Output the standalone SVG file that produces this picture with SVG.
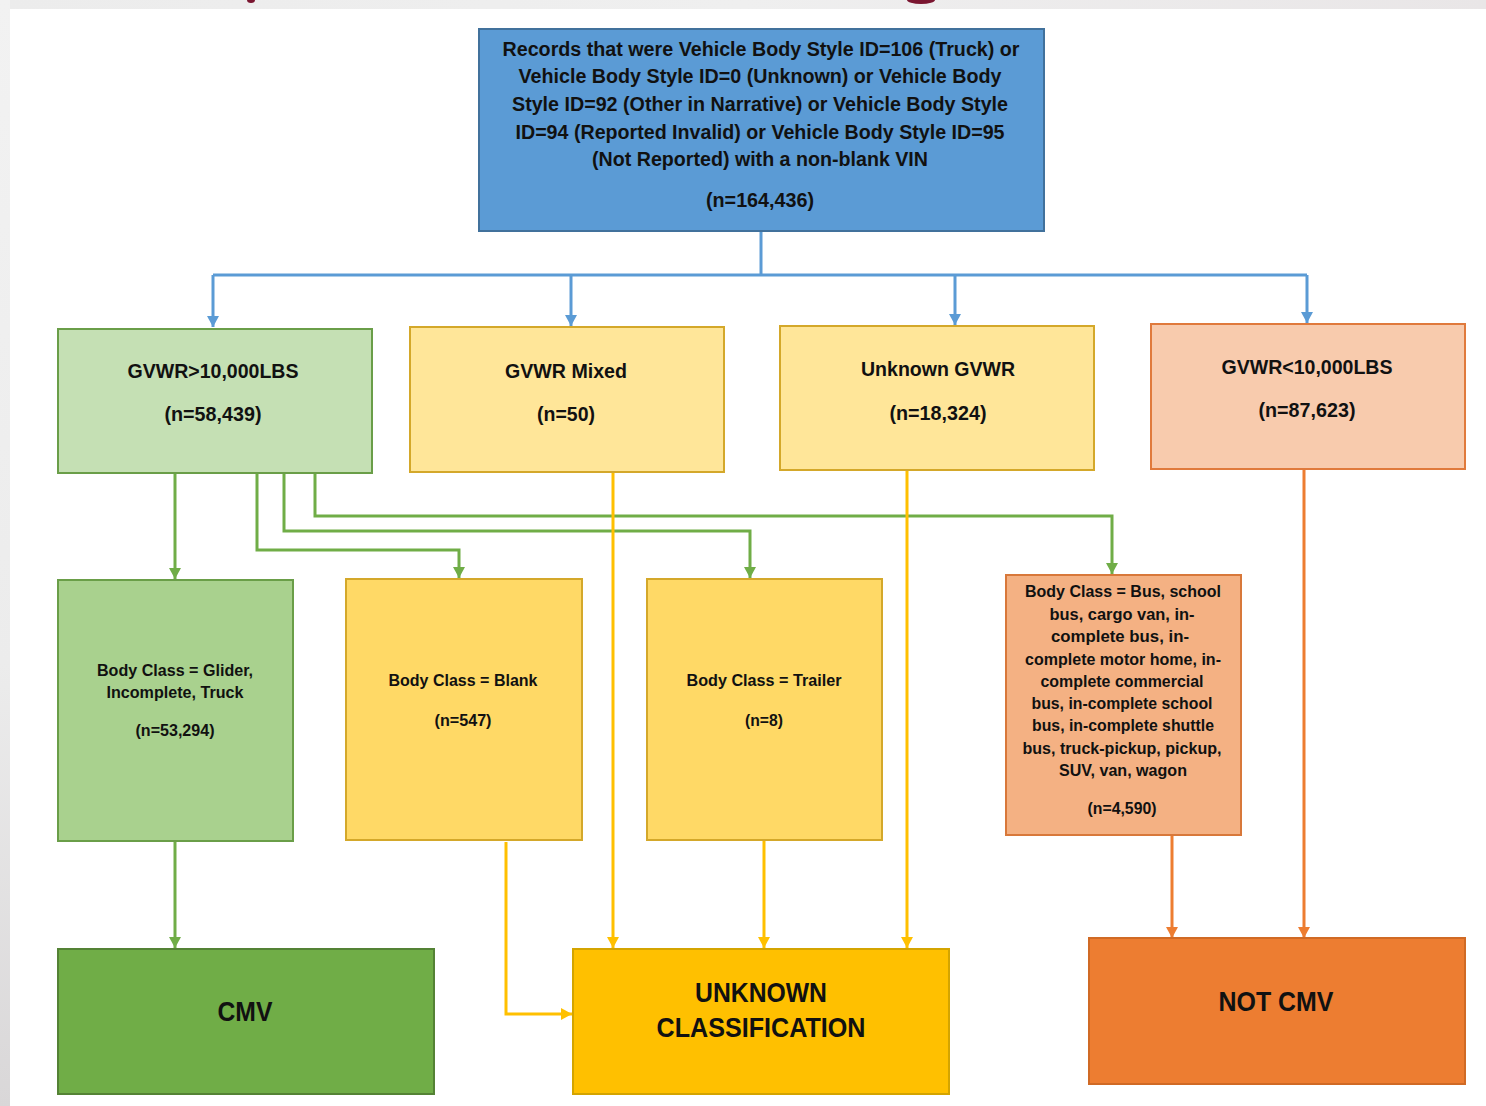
<svg xmlns="http://www.w3.org/2000/svg" width="1486" height="1106" viewBox="0 0 1486 1106">
<defs>
<linearGradient id="leftBand" x1="0" y1="0" x2="0" y2="1"><stop offset="0" stop-color="#f2f2f2"/><stop offset="0.6" stop-color="#ececec"/><stop offset="1" stop-color="#d9d7d8"/></linearGradient>
<linearGradient id="topBand" x1="0" y1="0" x2="1" y2="0"><stop offset="0" stop-color="#ececec"/><stop offset="0.5" stop-color="#efefef"/><stop offset="1" stop-color="#e9e6e7"/></linearGradient>
<marker id="aBlue" markerUnits="userSpaceOnUse" markerWidth="13" markerHeight="13" refX="11" refY="6.5" orient="auto"><path d="M0,0.5 L11,6.5 L0,12.5 z" fill="#5b9bd5"/></marker>
<marker id="aGreen" markerUnits="userSpaceOnUse" markerWidth="13" markerHeight="13" refX="11" refY="6.5" orient="auto"><path d="M0,0.5 L11,6.5 L0,12.5 z" fill="#70ad47"/></marker>
<marker id="aYellow" markerUnits="userSpaceOnUse" markerWidth="13" markerHeight="13" refX="11" refY="6.5" orient="auto"><path d="M0,0.5 L11,6.5 L0,12.5 z" fill="#ffc000"/></marker>
<marker id="aOrange" markerUnits="userSpaceOnUse" markerWidth="13" markerHeight="13" refX="11" refY="6.5" orient="auto"><path d="M0,0.5 L11,6.5 L0,12.5 z" fill="#ed7d31"/></marker>
<style>
text{font-family:"Liberation Sans",Arial,sans-serif;font-weight:bold;fill:#111;text-anchor:middle;}
.t19{font-size:20px;}
.t20{font-size:21px;}
.t16{font-size:16.5px;}
.t27{font-size:28px;}
.blue{fill:#5b9bd5;stroke:#41719c;stroke-width:2;}
.lgreen{fill:#c5e0b4;stroke:#6a9e48;stroke-width:2;}
.mgreen{fill:#a9d18e;stroke:#6a9e48;stroke-width:2;}
.dgreen{fill:#70ad47;stroke:#548235;stroke-width:2;}
.lyellow{fill:#ffe699;stroke:#d4a82a;stroke-width:2;}
.myellow{fill:#ffd966;stroke:#d4a82a;stroke-width:2;}
.dyellow{fill:#ffc000;stroke:#d4a400;stroke-width:2;}
.lorange{fill:#f8cbad;stroke:#e07a3c;stroke-width:2;}
.morange{fill:#f4b183;stroke:#d8783a;stroke-width:2;}
.dorange{fill:#ed7d31;stroke:#d06a25;stroke-width:2;}
.cb{fill:none;stroke:#5b9bd5;stroke-width:3;}
.cg{fill:none;stroke:#70ad47;stroke-width:3;}
.cy{fill:none;stroke:#ffc000;stroke-width:3;}
.co{fill:none;stroke:#ed7d31;stroke-width:3;}
</style>
</defs>
<rect x="0" y="0" width="1486" height="1106" fill="#ffffff"/>
<rect x="0" y="0" width="1486" height="9" fill="url(#topBand)"/>
<rect x="0" y="0" width="10" height="1106" fill="url(#leftBand)"/>
<ellipse cx="251" cy="0" rx="4" ry="3" fill="#7a1530"/>
<ellipse cx="921" cy="0" rx="14" ry="4" fill="#7a1530"/>

<g id="connectors">
<path class="cb" d="M761,231 V275"/>
<path class="cb" d="M213,275 H1307"/>
<path class="cb" d="M213,275 V327" marker-end="url(#aBlue)"/>
<path class="cb" d="M571,275 V326" marker-end="url(#aBlue)"/>
<path class="cb" d="M955,275 V325" marker-end="url(#aBlue)"/>
<path class="cb" d="M1307,275 V323" marker-end="url(#aBlue)"/>

<path class="cg" d="M175,473 V579" marker-end="url(#aGreen)"/>
<path class="cg" d="M257,473 V550 H459 V578" marker-end="url(#aGreen)"/>
<path class="cg" d="M284,473 V531 H750 V578" marker-end="url(#aGreen)"/>
<path class="cg" d="M315,473 V516 H1112 V574" marker-end="url(#aGreen)"/>
<path class="cg" d="M175,841 V948" marker-end="url(#aGreen)"/>

<path class="cy" d="M613,472 V948" marker-end="url(#aYellow)"/>
<path class="cy" d="M907,470 V948" marker-end="url(#aYellow)"/>
<path class="cy" d="M764,841 V948" marker-end="url(#aYellow)"/>
<path class="cy" d="M506,842 V1014 H572" marker-end="url(#aYellow)"/>

<path class="co" d="M1172,835 V938" marker-end="url(#aOrange)"/>
<path class="co" d="M1304,469 V938" marker-end="url(#aOrange)"/>
</g>

<g id="root">
<rect class="blue" x="479" y="29" width="565" height="202"/>
<text class="t19" x="761" y="56" textLength="517" lengthAdjust="spacingAndGlyphs">Records that were Vehicle Body Style ID=106 (Truck) or</text>
<text class="t19" x="760" y="83" textLength="483" lengthAdjust="spacingAndGlyphs">Vehicle Body Style ID=0 (Unknown) or Vehicle Body</text>
<text class="t19" x="760" y="111" textLength="496" lengthAdjust="spacingAndGlyphs">Style ID=92 (Other in Narrative) or Vehicle Body Style</text>
<text class="t19" x="760" y="139" textLength="489" lengthAdjust="spacingAndGlyphs">ID=94 (Reported Invalid) or Vehicle Body Style ID=95</text>
<text class="t19" x="760" y="166" textLength="336" lengthAdjust="spacingAndGlyphs">(Not Reported) with a non-blank VIN</text>
<text class="t19" x="760" y="207" textLength="108" lengthAdjust="spacingAndGlyphs">(n=164,436)</text>
</g>

<g id="gvwr-over">
<rect class="lgreen" x="58" y="329" width="314" height="144"/>
<text class="t20" x="213" y="378" textLength="171" lengthAdjust="spacingAndGlyphs">GVWR&gt;10,000LBS</text>
<text class="t20" x="213" y="421" textLength="97" lengthAdjust="spacingAndGlyphs">(n=58,439)</text>
</g>

<g id="gvwr-mixed">
<rect class="lyellow" x="410" y="327" width="314" height="145"/>
<text class="t20" x="566" y="378" textLength="122" lengthAdjust="spacingAndGlyphs">GVWR Mixed</text>
<text class="t20" x="566" y="421" textLength="58" lengthAdjust="spacingAndGlyphs">(n=50)</text>
</g>

<g id="gvwr-unknown">
<rect class="lyellow" x="780" y="326" width="314" height="144"/>
<text class="t20" x="938" y="376" textLength="154" lengthAdjust="spacingAndGlyphs">Unknown GVWR</text>
<text class="t20" x="938" y="420" textLength="97" lengthAdjust="spacingAndGlyphs">(n=18,324)</text>
</g>

<g id="gvwr-under">
<rect class="lorange" x="1151" y="324" width="314" height="145"/>
<text class="t20" x="1307" y="374" textLength="171" lengthAdjust="spacingAndGlyphs">GVWR&lt;10,000LBS</text>
<text class="t20" x="1307" y="417" textLength="97" lengthAdjust="spacingAndGlyphs">(n=87,623)</text>
</g>

<g id="bc-glider">
<rect class="mgreen" x="58" y="580" width="235" height="261"/>
<text class="t16" x="175" y="676" textLength="156" lengthAdjust="spacingAndGlyphs">Body Class = Glider,</text>
<text class="t16" x="175" y="698" textLength="137" lengthAdjust="spacingAndGlyphs">Incomplete, Truck</text>
<text class="t16" x="175" y="736" textLength="79" lengthAdjust="spacingAndGlyphs">(n=53,294)</text>
</g>

<g id="bc-blank">
<rect class="myellow" x="346" y="579" width="236" height="261"/>
<text class="t16" x="463" y="686" textLength="149" lengthAdjust="spacingAndGlyphs">Body Class = Blank</text>
<text class="t16" x="463" y="726" textLength="57" lengthAdjust="spacingAndGlyphs">(n=547)</text>
</g>

<g id="bc-trailer">
<rect class="myellow" x="647" y="579" width="235" height="261"/>
<text class="t16" x="764" y="686" textLength="155" lengthAdjust="spacingAndGlyphs">Body Class = Trailer</text>
<text class="t16" x="764" y="726" textLength="38" lengthAdjust="spacingAndGlyphs">(n=8)</text>
</g>

<g id="bc-bus">
<rect class="morange" x="1006" y="575" width="235" height="260"/>
<text class="t16" x="1123" y="597" textLength="196" lengthAdjust="spacingAndGlyphs">Body Class = Bus, school</text>
<text class="t16" x="1122" y="620" textLength="145" lengthAdjust="spacingAndGlyphs">bus, cargo van,  in-</text>
<text class="t16" x="1120" y="642" textLength="138" lengthAdjust="spacingAndGlyphs">complete bus, in-</text>
<text class="t16" x="1123" y="665" textLength="196" lengthAdjust="spacingAndGlyphs">complete motor home, in-</text>
<text class="t16" x="1122" y="687" textLength="163" lengthAdjust="spacingAndGlyphs">complete commercial</text>
<text class="t16" x="1122" y="709" textLength="181" lengthAdjust="spacingAndGlyphs">bus, in-complete school</text>
<text class="t16" x="1123" y="731" textLength="182" lengthAdjust="spacingAndGlyphs">bus, in-complete shuttle</text>
<text class="t16" x="1122" y="754" textLength="199" lengthAdjust="spacingAndGlyphs">bus, truck-pickup, pickup,</text>
<text class="t16" x="1123" y="776" textLength="128" lengthAdjust="spacingAndGlyphs">SUV, van, wagon</text>
<text class="t16" x="1122" y="814" textLength="69" lengthAdjust="spacingAndGlyphs">(n=4,590)</text>
</g>

<g id="cmv">
<rect class="dgreen" x="58" y="949" width="376" height="145"/>
<text class="t27" x="245" y="1021" textLength="55" lengthAdjust="spacingAndGlyphs">CMV</text>
</g>

<g id="unknown-classification">
<rect class="dyellow" x="573" y="949" width="376" height="145"/>
<text class="t27" x="761" y="1002" textLength="132" lengthAdjust="spacingAndGlyphs">UNKNOWN</text>
<text class="t27" x="761" y="1037" textLength="209" lengthAdjust="spacingAndGlyphs">CLASSIFICATION</text>
</g>

<g id="not-cmv">
<rect class="dorange" x="1089" y="938" width="376" height="146"/>
<text class="t27" x="1276" y="1011" textLength="115" lengthAdjust="spacingAndGlyphs">NOT CMV</text>
</g>
</svg>
